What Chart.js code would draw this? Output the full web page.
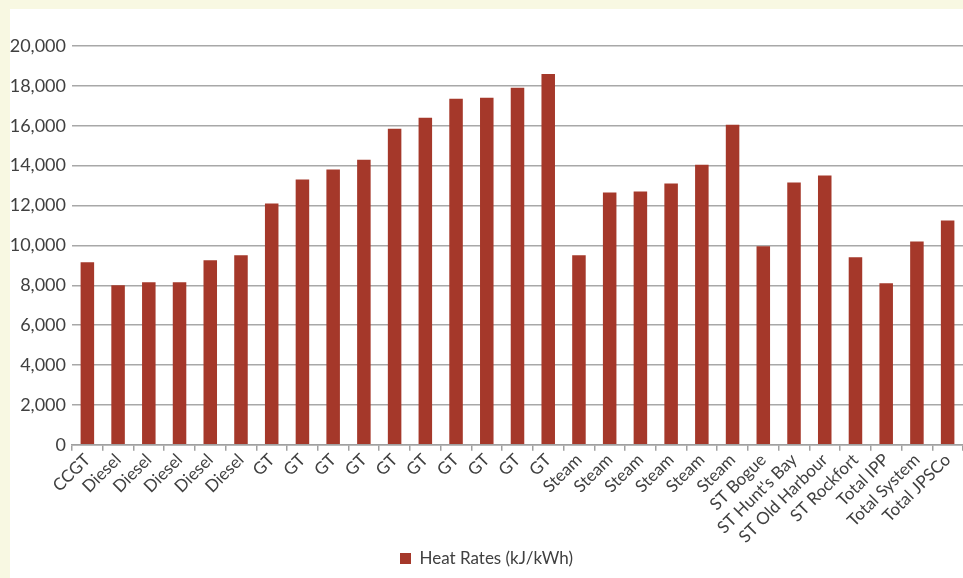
<!DOCTYPE html>
<html>
<head>
<meta charset="utf-8">
<script src="https://cdn.jsdelivr.net/npm/chart.js@4/dist/chart.umd.min.js"></script>
<style>
  html, body { margin: 0; padding: 0; background: #f8f8e2; width: 963px; height: 578px; overflow: hidden; }
  #panel { position: absolute; left: 10px; top: 9px; width: 953px; height: 569px; background: #ffffff; }
  canvas { display: block; }
</style>
</head>
<body>
<div id="panel"><canvas id="chart" width="953" height="569"></canvas></div>
<script>
// Plant categories along the x axis
const categories = [
  "CCGT", "Diesel", "Diesel", "Diesel", "Diesel", "Diesel",
  "GT", "GT", "GT", "GT", "GT", "GT", "GT", "GT", "GT", "GT",
  "Steam", "Steam", "Steam", "Steam", "Steam", "Steam",
  "ST Bogue", "ST Hunt's Bay", "ST Old Harbour", "ST Rockfort",
  "Total IPP", "Total System", "Total JPSCo"
];

// Heat rate per unit, kJ/kWh
const heatRates = [
  9150, 8000, 8150, 8150, 9250, 9500,
  12100, 13300, 13800, 14300, 15850, 16400, 17350, 17400, 17900, 18600,
  9500, 12650, 12700, 13100, 14050, 16050,
  9950, 13150, 13500, 9400,
  8100, 10200, 11250
];

const seriesName = "Heat Rates (kJ/kWh)";
const yTicks = { min: 0, max: 20000, step: 2000 };

const barColor = "#a5382a";
const textColor = "#404040";
const fontFamily = "Lato, 'Open Sans', sans-serif";

new Chart(document.getElementById("chart"), {
  type: "bar",
  data: {
    labels: categories,
    datasets: [{
      label: seriesName,
      data: heatRates,
      backgroundColor: barColor,
      borderWidth: 0,
      barPercentage: 0.44,
      categoryPercentage: 1.0
    }]
  },
  options: {
    responsive: false,
    animation: false,
    layout: { padding: { top: 37, right: 0, left: 0, bottom: 1 } },
    plugins: {
      tooltip: { enabled: false },
      legend: {
        position: "bottom",
        labels: {
          color: textColor,
          font: { family: fontFamily, size: 17 },
          boxWidth: 11,
          boxHeight: 11,
          padding: 6
        }
      }
    },
    scales: {
      x: {
        offset: true,
        afterFit: scale => { scale.height -= 2; },
        grid: {
          display: true,
          offset: true,
          drawOnChartArea: false,
          drawTicks: true,
          tickLength: 6,
          color: "#a0a0a0",
          lineWidth: 1.5
        },
        border: { display: true, color: "#a0a0a0", width: 1.5 },
        ticks: {
          color: textColor,
          font: { family: fontFamily, size: 17 },
          maxRotation: 45,
          minRotation: 45,
          autoSkip: false,
          padding: -1
        }
      },
      y: {
        min: yTicks.min,
        max: yTicks.max,
        afterFit: scale => { scale.width = 62; },
        grid: {
          color: "#a8a8a8",
          lineWidth: 1.5,
          drawTicks: false
        },
        border: { display: false },
        ticks: {
          stepSize: yTicks.step,
          color: textColor,
          font: { family: fontFamily, size: 18 },
          padding: 6,
          callback: v => v.toLocaleString("en-US")
        }
      }
    }
  }
});
</script>
</body>
</html>
